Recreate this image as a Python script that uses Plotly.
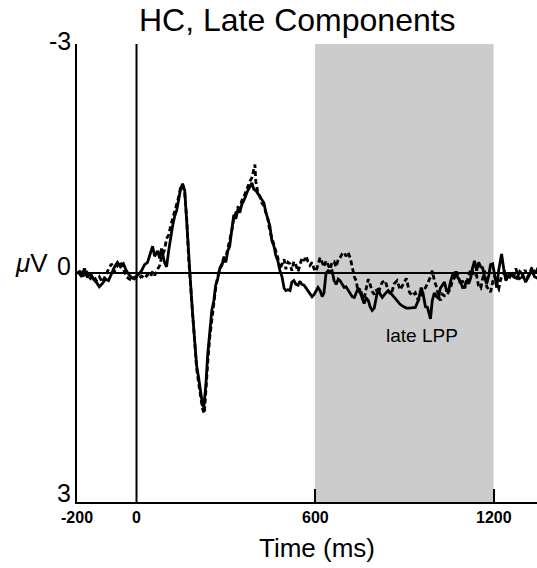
import plotly.graph_objects as go

# --- data ---
t_solid = [-196,-185,-175,-165,-155,-145,-135,-125,-115,-104,-94,-84,-74,-64,-54,-44,-34,-24,-13,-3,
           7,17,27,37,47,54,61,71,78,84,94,101,108,115,121,128,135,142,148,155,162,169,175,182,189,196,
           202,209,216,222,226,233,239,246,253,260,266,273,280,287,293,300,307,313,320,327,334,341,347,
           354,361,368,374,381,388,394,401,408,415,421,428,435,442,448,455,462,468,475,482,489,496,502,
           509,516,522,529,536,543,549,556,563,570,576,583,590,597,603,610,617,624,630,637,644,651,657,
           664,671,678,684,691,698,704,711,718,725,732,738,745,752,758,765,772,779,785,792,799,806,812,
           819,826,836,846,856,866,876,886,897,907,917,927,937,947,957,964,971,978,984,988,994,1001,1008,
           1015,1021,1028,1035,1042,1049,1055,1062,1069,1075,1082,1089,1096,1103,1109,1116,1123,1129,
           1136,1143,1150,1157,1163,1170,1177,1184,1190,1197,1204,1211,1217,1224,1227,1234,1241,1248,
           1257,1267,1278,1288,1298,1308,1318,1328,1338,1348,1355]
uv_solid = [-0.03,0.05,-0.06,0.06,0.0,0.08,0.12,0.18,0.14,0.08,0.10,0.0,-0.08,-0.14,-0.08,-0.12,-0.03,0.03,0.07,0.05,
            0.02,-0.03,-0.11,-0.14,-0.27,-0.35,-0.22,-0.29,-0.19,-0.32,-0.14,-0.08,-0.29,-0.48,-0.61,-0.74,-0.82,-0.97,-1.10,-1.17,-1.08,-0.66,-0.23,0.16,0.56,0.95,
            1.21,1.38,1.60,1.73,1.76,1.47,1.08,0.75,0.49,0.36,0.16,0.07,-0.06,-0.10,-0.19,-0.14,-0.29,-0.35,-0.53,-0.76,-0.71,-0.84,-0.79,
            -0.90,-0.95,-1.03,-1.08,-1.13,-1.18,-1.10,-1.08,-1.04,-1.00,-0.95,-0.92,-0.79,-0.71,-0.62,-0.42,-0.35,-0.23,-0.16,-0.03,0.05,0.20,0.23,
            0.22,0.23,0.12,0.10,0.15,0.16,0.11,0.15,0.16,0.20,0.24,0.28,0.31,0.28,0.23,0.19,0.23,0.31,0.26,0.0,-0.03,-0.02,-0.03,
            0.10,0.15,0.08,0.10,0.15,0.19,0.18,0.23,0.26,0.31,0.32,0.26,0.20,0.26,0.33,0.40,0.33,0.36,0.44,0.49,0.46,0.31,0.20,
            0.28,0.32,0.27,0.23,0.27,0.32,0.36,0.41,0.44,0.46,0.46,0.45,0.45,0.36,0.19,0.29,0.44,0.45,0.57,0.60,0.36,0.26,0.31,
            0.33,0.20,0.15,0.12,0.23,0.23,0.12,0.03,0.0,0.03,0.07,0.12,0.19,0.18,0.10,0.14,0.07,-0.06,
            -0.16,-0.03,-0.14,-0.08,-0.07,0.05,0.14,0.03,-0.11,-0.12,0.05,0.19,-0.03,-0.22,-0.25,-0.06,0.10,0.05,
            0.01,0.05,0.07,-0.02,0.02,0.12,0.05,-0.03,0.05,0.07,0.0]

t_dash = [-196,-185,-175,-165,-155,-145,-135,-125,-115,-104,-94,-84,-74,-64,-54,-44,-34,-24,-13,-3,
          7,17,27,37,47,54,61,71,78,84,94,101,108,115,121,128,135,142,148,155,162,169,175,182,189,196,
          202,209,216,222,228,233,239,246,253,260,266,273,280,287,293,300,307,313,320,327,334,341,347,
          354,361,368,374,381,388,394,398,401,408,415,421,428,435,442,448,455,462,468,475,482,489,496,
          502,509,516,522,529,536,543,549,556,563,570,576,583,590,597,603,610,617,624,630,637,644,651,
          657,664,671,678,684,691,698,704,711,718,725,732,738,745,752,758,765,772,779,785,792,799,806,
          812,819,826,836,846,856,866,876,886,897,907,917,927,937,947,957,964,971,978,988,994,1001,1008,
          1015,1021,1028,1035,1042,1049,1055,1062,1069,1075,1082,1089,1096,1103,1109,1116,1123,1129,
          1136,1143,1150,1157,1163,1170,1177,1184,1190,1197,1204,1211,1217,1224,1230,1238,1245,1252,
          1260,1267,1275,1283,1290,1298,1306,1314,1322,1330,1340,1348,1355]
uv_dash = [0.02,-0.04,0.06,0.0,0.07,0.03,0.10,0.05,0.12,0.02,-0.05,-0.12,-0.02,-0.10,-0.15,-0.05,0.05,0.08,0.10,0.06,
           0.08,0.04,0.07,0.02,0.05,-0.02,0.03,-0.05,-0.10,-0.20,-0.30,-0.45,-0.50,-0.62,-0.70,-0.80,-0.88,-1.00,-1.12,-1.15,-1.05,-0.70,-0.20,0.20,0.60,1.00,
           1.25,1.45,1.62,1.78,1.84,1.60,1.20,0.85,0.60,0.40,0.20,0.05,-0.06,-0.12,-0.20,-0.20,-0.32,-0.40,-0.55,-0.72,-0.78,-0.86,-0.85,
           -0.95,-1.00,-1.08,-1.15,-1.20,-1.25,-1.38,-1.42,-1.20,-1.05,-1.00,-0.92,-0.88,-0.78,-0.70,-0.55,-0.45,-0.35,-0.28,-0.20,-0.05,-0.12,-0.18,
           -0.05,-0.14,-0.12,-0.03,-0.15,-0.10,-0.02,-0.10,-0.20,-0.16,-0.22,-0.15,-0.10,-0.14,-0.05,-0.02,-0.13,-0.20,-0.14,-0.08,-0.16,-0.10,-0.05,
           -0.14,-0.15,-0.08,-0.18,-0.20,-0.25,-0.27,-0.22,-0.27,-0.20,-0.08,0.05,0.10,0.25,0.20,0.30,0.33,0.22,0.08,0.15,0.24,0.28,0.22,
           0.28,0.18,0.12,0.10,0.24,0.28,0.14,0.10,0.22,0.15,0.07,0.25,0.30,0.26,0.36,0.30,0.25,0.20,0.14,0.05,-0.03,0.10,0.18,
           0.30,0.36,0.28,0.30,0.30,0.24,0.20,0.10,0.06,-0.02,0.05,0.15,0.10,0.20,0.14,0.05,-0.05,-0.03,
           0.05,0.03,0.18,0.20,0.08,-0.03,0.18,0.22,0.25,0.12,0.04,0.20,0.22,0.08,0.02,-0.04,0.05,0.08,
           -0.02,0.07,-0.06,0.05,0.10,0.02,-0.04,0.06,0.0,-0.08,0.02,-0.06,-0.09]

window_ms = [600, 1200]
x_ticks = [-200, 0, 600, 1200]
x_tick_text = ["-200", "0", "600", "1200"]
y_ticks = [-3, 0, 3]
y_tick_text = ["-3", "0", "3"]

FONT = "Liberation Sans, Arial, Helvetica, sans-serif"

fig = go.Figure()
fig.add_trace(go.Scatter(x=t_dash, y=uv_dash, mode="lines",
                         line=dict(color="black", width=2.8, dash="5px,3px"), showlegend=False))
fig.add_trace(go.Scatter(x=t_solid, y=uv_solid, mode="lines",
                         line=dict(color="black", width=2.8), showlegend=False))

# shaded late LPP window
fig.add_shape(type="rect", xref="x", yref="y", x0=window_ms[0], x1=window_ms[1], y0=-3, y1=3,
              fillcolor="#cccccc", line=dict(width=0), layer="below")
# zero lines
fig.add_shape(type="line", xref="paper", yref="y", x0=0, x1=1, y0=0, y1=0,
              line=dict(color="black", width=2))
fig.add_shape(type="line", xref="x", yref="paper", x0=0, x1=0, y0=0, y1=1,
              line=dict(color="black", width=2))

# title
fig.add_annotation(x=0.48, y=1, xref="paper", yref="paper", yanchor="middle", yshift=24,
                   text="HC, Late Components", showarrow=False,
                   font=dict(family=FONT, size=32, color="black"))

# y tick labels (placed like the reference, slightly raised)
y_label_shift = [3, 7, 9]
for v, txt, sh in zip(y_ticks, y_tick_text, y_label_shift):
    fig.add_annotation(x=0, y=v, xref="paper", yref="y", xanchor="right", yanchor="middle",
                       xshift=-4, yshift=sh, text=txt, showarrow=False,
                       font=dict(family=FONT, size=25, color="black"))

# x tick labels
for v, txt in zip(x_ticks, x_tick_text):
    fig.add_annotation(x=v, y=0, xref="x", yref="paper", xanchor="center", yanchor="top",
                       yshift=-5, text="<b>%s</b>" % txt, showarrow=False,
                       font=dict(family=FONT, size=16, color="black"))

fig.add_annotation(x=0, y=0, xref="paper", yref="y", xanchor="right", yanchor="middle",
                   xshift=-27, yshift=10,
                   text="<i>μ</i>V", showarrow=False,
                   font=dict(family=FONT, size=26, color="black"))
fig.add_annotation(x=0.522, y=0, xref="paper", yref="paper", xanchor="center", yanchor="middle",
                   yshift=-46, text="Time (ms)", showarrow=False,
                   font=dict(family=FONT, size=26, color="black"))
fig.add_annotation(x=961, y=0.82, xref="x", yref="y",
                   text="late LPP", showarrow=False,
                   font=dict(family=FONT, size=19, color="black"))

fig.update_layout(
    width=537, height=568,
    margin=dict(l=77, r=0, t=44, b=66),
    plot_bgcolor="white", paper_bgcolor="white",
    font=dict(family=FONT, color="black"),
    xaxis=dict(range=[-200, 1346], tickvals=[600, 1200], showticklabels=False,
               showgrid=False, zeroline=False, showline=True, linecolor="black", linewidth=2,
               ticks="inside", ticklen=13, tickwidth=2, tickcolor="black"),
    yaxis=dict(range=[3, -3], tickvals=[-3], showticklabels=False,
               showgrid=False, zeroline=False, showline=True, linecolor="black", linewidth=2,
               ticks="inside", ticklen=13, tickwidth=2, tickcolor="black"),
)

fig.write_html("out.html")
